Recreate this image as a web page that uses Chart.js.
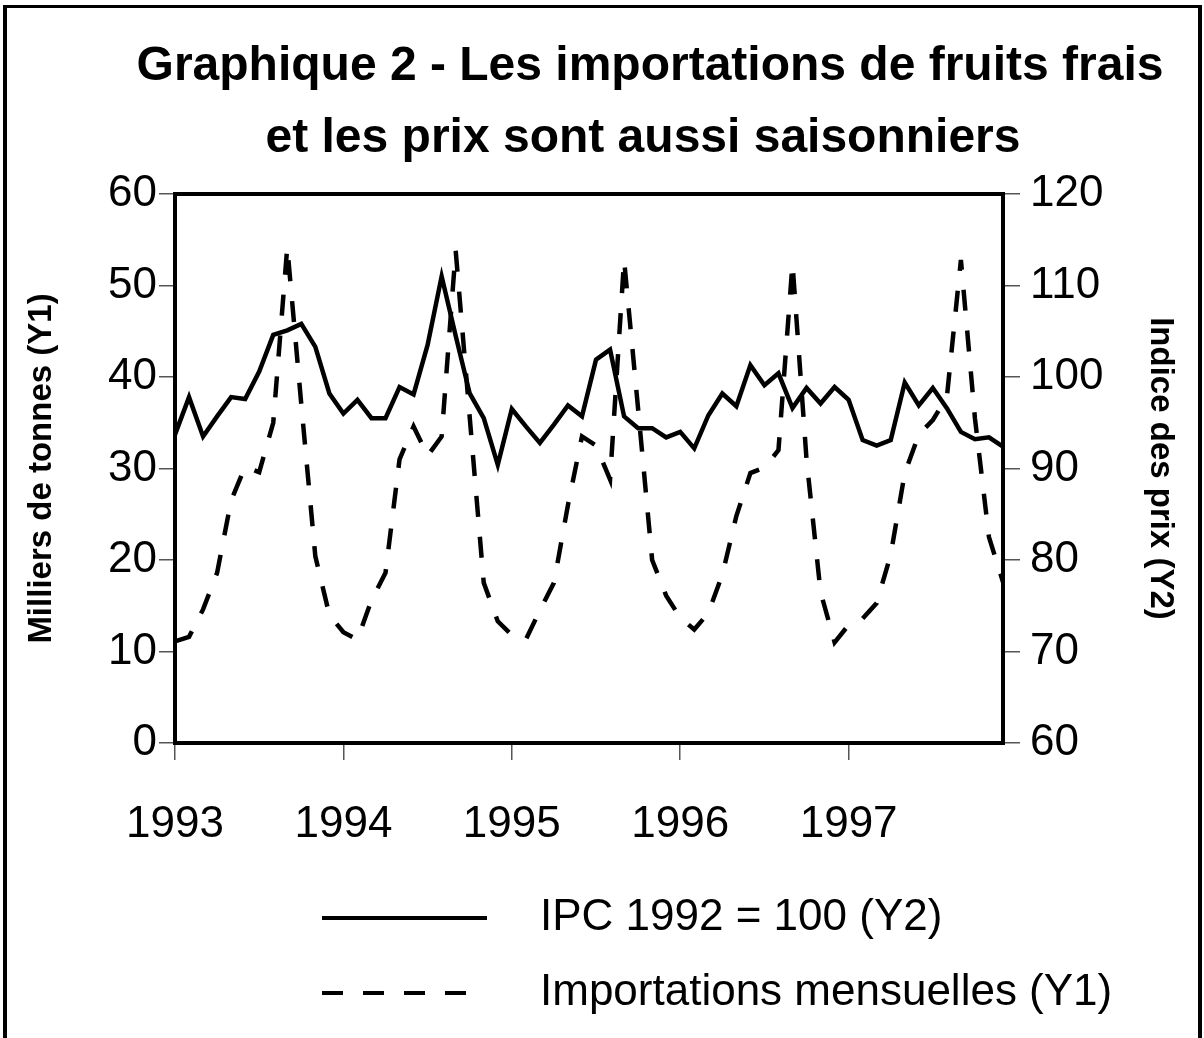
<!DOCTYPE html>
<html lang="fr">
<head>
<meta charset="utf-8">
<title>Graphique 2 - Importations de fruits frais</title>
<script src="https://cdn.jsdelivr.net/npm/chart.js@4.4.1/dist/chart.umd.min.js"></script>
<style>
html, body { margin:0; padding:0; background:#fff; overflow:hidden; }
#wrap { position:relative; width:1204px; height:1038px; }
</style>
</head>
<body>
<div id="wrap"><canvas id="graphique" width="1204" height="1038"></canvas></div>
<script>
// axe des x : 60 mois, de janvier 1993 a decembre 1997
const annees = [1993, 1994, 1995, 1996, 1997];
const mois = [];
annees.forEach(a => { for (let m = 1; m <= 12; m++) mois.push(a + '-' + String(m).padStart(2, '0')); });

// importations mensuelles, milliers de tonnes (Y1)
const importations = [
  11.1, 11.6, 14.6, 18.6, 26.5, 30.2, 29.6, 35.0, 54.2, 37.0, 20.4, 14.0,
  12.1, 11.3, 15.6, 18.6, 31.0, 34.6, 31.4, 33.5, 53.8, 35.6, 17.5, 13.3,
  11.8, 11.3, 14.5, 17.5, 26.0, 33.5, 32.5, 28.8, 52.8, 36.5, 20.0, 16.1,
  13.7, 12.4, 14.2, 18.4, 24.8, 29.5, 30.1, 32.0, 52.4, 31.0, 16.5, 11.0,
  12.9, 13.6, 15.3, 20.6, 29.5, 33.7, 35.3, 37.8, 52.8, 35.5, 22.5, 17.6
];

// indice des prix, IPC 1992 = 100 (Y2)
const ipc = [
  93.7, 97.8, 93.5, 95.7, 97.8, 97.6, 100.6, 104.6, 105.1, 105.8, 103.3, 98.2,
  96.0, 97.5, 95.5, 95.5, 98.9, 98.1, 103.5, 111.0, 104.5, 98.2, 95.5, 90.4,
  96.5, 94.6, 92.8, 94.8, 96.9, 95.7, 101.9, 103.0, 95.7, 94.4, 94.4, 93.4,
  94.0, 92.2, 95.8, 98.2, 96.8, 101.3, 99.1, 100.4, 96.6, 98.8, 97.1, 98.9,
  97.5, 93.1, 92.5, 93.1, 99.4, 96.9, 98.8, 96.6, 94.0, 93.2, 93.4, 92.4
];

const titre = ['Graphique 2 - Les importations de fruits frais', 'et les prix sont aussi saisonniers'];
const police = '"Liberation Sans", Arial, sans-serif';

const cadre = {
  id: 'cadre',
  afterDatasetsDraw(chart) {
    const { ctx, chartArea: a } = chart;
    ctx.save();
    ctx.strokeStyle = '#000';
    ctx.lineWidth = 4;
    ctx.strokeRect(a.left, a.top, a.right - a.left, a.bottom - a.top);
    ctx.restore();
  },
  afterDraw(chart) {
    const ctx = chart.ctx;
    ctx.save();
    ctx.fillStyle = '#000';
    ctx.fillRect(3, 5, 1199, 3);
    ctx.fillRect(3, 5, 4, 1033);
    ctx.fillRect(1198, 5, 4, 1033);
    // titre
    ctx.font = 'bold 48px ' + police;
    ctx.textAlign = 'center';
    ctx.textBaseline = 'alphabetic';
    ctx.fillText(titre[0], 650, 80);
    ctx.fillText(titre[1], 643, 152);
    // legende
    ctx.font = '44px ' + police;
    ctx.textAlign = 'left';
    ctx.textBaseline = 'middle';
    const ys = [918, 993];
    [1, 0].forEach((idx, k) => {
      const ds = chart.data.datasets[idx];
      ctx.strokeStyle = ds.borderColor;
      ctx.lineWidth = 4;
      ctx.setLineDash(ds.borderDash || []);
      ctx.beginPath();
      ctx.moveTo(322, ys[k]);
      ctx.lineTo(k === 0 ? 487 : 474, ys[k]);
      ctx.stroke();
      ctx.setLineDash([]);
      ctx.fillText(ds.label, 540, ys[k]);
    });
    ctx.restore();
  }
};

const tickFont = { family: police, size: 44 };

new Chart(document.getElementById('graphique'), {
  type: 'line',
  data: {
    labels: mois,
    datasets: [
      {
        label: 'Importations mensuelles (Y1)',
        data: importations,
        yAxisID: 'y',
        borderColor: '#000',
        borderWidth: 4.5,
        borderDash: [21, 20],
        pointRadius: 0,
        tension: 0,
        fill: false
      },
      {
        label: 'IPC 1992 = 100 (Y2)',
        data: ipc,
        yAxisID: 'y2',
        borderColor: '#000',
        borderWidth: 4.5,
        pointRadius: 0,
        tension: 0,
        fill: false
      }
    ]
  },
  options: {
    responsive: false,
    animation: false,
    layout: { padding: { top: 194, bottom: 175, left: 0, right: 0 } },
    plugins: {
      legend: { display: false },
      title: { display: false },
      tooltip: { enabled: false }
    },
    scales: {
      x: {
        type: 'category',
        grid: { drawOnChartArea: false, tickLength: 17, color: '#555', lineWidth: 1.5 },
        border: { display: false },
        ticks: {
          autoSkip: false,
          maxRotation: 0,
          padding: 38,
          color: '#000',
          font: tickFont,
          callback: (v, i) => (i % 12 === 0 ? String(annees[i / 12]) : null)
        },
        afterFit: s => { s.height = 120; }
      },
      y: {
        position: 'left',
        min: 0,
        max: 60,
        grid: { drawOnChartArea: false, tickLength: 16, color: '#555', lineWidth: 1.5 },
        border: { display: false },
        ticks: { stepSize: 10, padding: 2, color: '#000', font: tickFont },
        title: {
          display: true,
          text: 'Milliers de tonnes (Y1)',
          color: '#000',
          font: { family: police, size: 33, weight: 'bold' },
          padding: { top: 22, bottom: 0 }
        },
        afterFit: s => { s.width = 175; }
      },
      y2: {
        position: 'right',
        min: 60,
        max: 120,
        grid: { drawOnChartArea: false, tickLength: 17, color: '#555', lineWidth: 1.5 },
        border: { display: false },
        ticks: { stepSize: 10, padding: 10, color: '#000', font: tickFont },
        title: {
          display: true,
          text: 'Indice des prix (Y2)',
          color: '#000',
          font: { family: police, size: 33, weight: 'bold' },
          padding: { top: 24, bottom: 0 }
        },
        afterFit: s => { s.width = 201; }
      }
    }
  },
  plugins: [cadre]
});
</script>
</body>
</html>
